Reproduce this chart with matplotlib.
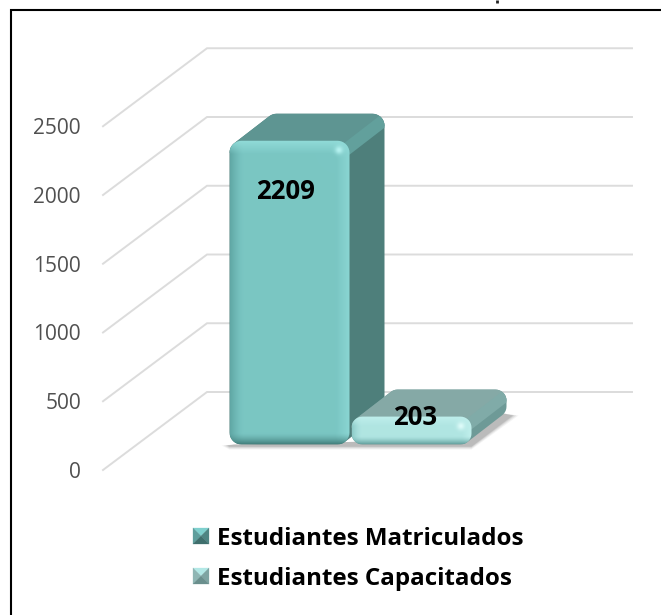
import numpy as np
import matplotlib
matplotlib.use("Agg")
import matplotlib.pyplot as plt
from matplotlib.patches import Polygon

categories = ["Estudiantes Matriculados", "Estudiantes Capacitados"]
values = [2209, 203]
ytick_values = [0, 500, 1000, 1500, 2000, 2500]
ytick_labels = ["0", "500", "1000", "1500", "2000", "2500"]

W, H = 661, 615
PX_X = 122.0     # pixels per bar slot
PX_Y = 0.1375    # pixels per student
X0, Y0 = 289.5, 444.5   # pixel of bar 0 centre / value 0 on the bars front plane
BAR_W = 120
DX, DY = 35, 27  # bar depth in pixels
FONT = "Open Sans"

bar_styles = [
    dict(base="#7AC6C3", top="#5E9592", side="#4E7F7B", band="#62A09C",
         light="#92DCD9", right="#8BD6D3", left="#5FA6A4", dark="#43807D",
         spot="#B5F2F0", bevel=14, radius=12),
    dict(base="#B0E5E2", top="#85A9A6", side="#6E9A97", band="#80ABA8",
         light="#BFEFEC", right="#C2F0ED", left="#8CCBC8", dark="#64A19F",
         spot="#DDFBF9", bevel=10, radius=11),
]


def dx(px):
    return px / PX_X


def dy(px):
    return px / PX_Y


def corner(xc, yc, r, a0, a1):
    t = np.radians(np.linspace(a0, a1, 10))
    return np.column_stack([xc + dx(r) * np.cos(t), yc + dy(r) * np.sin(t)])


def hull(pts):
    pts = sorted(set(map(tuple, pts)))
    def half(seq):
        out = []
        for p in seq:
            while len(out) > 1 and ((out[-1][0] - out[-2][0]) * (p[1] - out[-2][1])
                                    - (out[-1][1] - out[-2][1]) * (p[0] - out[-2][0])) <= 0:
                out.pop()
            out.append(p)
        return out[:-1]
    return np.array(half(pts) + half(pts[::-1]))


def mix(img, col, w):
    rgb = np.array(matplotlib.colors.to_rgb(col))
    return img * (1 - w[..., None]) + rgb * w[..., None]


def bevel_image(w, h, st):
    xx, yy = np.meshgrid(np.arange(w) + 0.5, np.arange(h) + 0.5)
    b = st["bevel"]
    img = np.ones((h, w, 3)) * np.array(matplotlib.colors.to_rgb(st["base"]))
    img = mix(img, st["left"], np.clip(1 - xx / b, 0, 1) ** 1.5)
    img = mix(img, st["right"], np.clip(1 - (w - xx) / b, 0, 1) ** 1.0)
    img = mix(img, st["light"], np.clip(1 - yy / b, 0, 1) ** 1.0)
    img = mix(img, st["dark"], np.clip(1 - (h - yy) / (b * 0.8), 0, 1) ** 1.5)
    spot = np.exp(-(((xx - w + 11) ** 2 + (yy - 10) ** 2) / 16.0))
    img = mix(img, st["spot"], spot)
    return img


fig = plt.figure(figsize=(W / 100, H / 100), dpi=100)
ax = fig.add_axes([0, 0, 1, 1])
ax.axis("off")
xlim = (-X0 / PX_X, (W - X0) / PX_X)
ylim = (-(H - Y0) / PX_Y, Y0 / PX_Y)

# grid walls: back lines and the diagonal floor lines
for v in ytick_values:
    back_y = v + dy(52.5)
    front_y = v - dy(25.5)
    xb = (207 - X0) / PX_X
    xe = (632 - X0) / PX_X
    xf = (103 - X0) / PX_X
    ax.plot([xf, xb, xe], [front_y, back_y, back_y], color="#DCDCDC", lw=1.4, zorder=1,
            solid_joinstyle="miter")

# shadow on the floor
for grow, alpha in [(6, 0.08), (4, 0.12), (2, 0.16), (0.5, 0.20)]:
    left = -dx(BAR_W / 2)
    right = len(values) - 1 + dx(BAR_W / 2)
    shadow = [(left - dx(2 + grow), -dy(1)), (left, -dy(2 + grow / 2)),
              (right, -dy(2 + grow / 2)), (right + dx(DX + 6 + grow), dy(DY + 2)),
              (right + dx(DX - 3), dy(DY + 4)), (right - dx(10), dy(5)), (left + dx(5), 0)]
    ax.add_patch(Polygon(shadow, closed=True, fc="#6F6F6F", ec="none", alpha=alpha, zorder=2))

# bars
for i, (val, st) in enumerate(zip(values, bar_styles)):
    z = 3 + i
    x0 = i - dx(BAR_W / 2)
    x1 = i + dx(BAR_W / 2)
    y0, y1 = 0, val
    r = st["radius"]
    ox, oy = dx(DX), dy(DY)

    def rect_pts(sx, sy):
        return np.vstack([
            corner(x1 - dx(r) + sx, y1 - dy(r) + sy, r, 0, 90),
            corner(x0 + dx(r) + sx, y1 - dy(r) + sy, r, 90, 180),
            corner(x0 + dx(r) + sx, y0 + dy(r) + sy, r, 180, 270),
            corner(x1 - dx(r) + sx, y0 + dy(r) + sy, r, 270, 360),
        ])

    ax.add_patch(Polygon(hull(np.vstack([rect_pts(0, 0), rect_pts(ox, oy)])), closed=True,
                         fc=st["side"], ec="none", zorder=z))
    # top face
    tl = corner(x0 + dx(r), y1 - dy(r), r, 90, 180)
    tr = corner(x1 - dx(r), y1 - dy(r), r, 0, 90)
    top_pts = np.vstack([tl, tr, tl + [ox, oy], tr + [ox, oy]])
    ax.add_patch(Polygon(hull(top_pts), closed=True, fc=st["top"], ec="none", zorder=z))
    # lighter band along the top right edge
    band = corner(x1 - dx(r), y1 - dy(r), r, -10, 55)
    ax.add_patch(Polygon(hull(np.vstack([band, band + [ox, oy]])), closed=True,
                         fc=st["band"], ec="none", zorder=z))
    # front face with the bevel, clipped to a rounded box
    wpx = BAR_W
    hpx = max(int(round(val * PX_Y)), 2)
    im = ax.imshow(bevel_image(wpx, hpx, st), extent=(x0, x1, y0, y1), origin="upper",
                   aspect="auto", interpolation="bilinear", zorder=z + 0.5)
    clip = Polygon(rect_pts(0, 0), closed=True, fc="none", ec="none", zorder=z + 0.5)
    ax.add_patch(clip)
    im.set_clip_path(clip)

# value labels
ax.annotate(str(values[0]), (0, values[0]), xytext=(-4, -51), textcoords="offset pixels",
            ha="center", va="center", fontsize=18.5, fontweight="bold", family=FONT,
            color="black", zorder=10)
ax.annotate(str(values[1]), (1, values[1]), xytext=(4, -1), textcoords="offset pixels",
            ha="center", va="center", fontsize=18.5, fontweight="bold", family=FONT,
            color="black", zorder=10)

# axis tick labels
for v, lab in zip(ytick_values, ytick_labels):
    ax.annotate(lab, ((81 - X0) / PX_X, v - dy(25.5)), ha="right", va="center_baseline",
                fontsize=15, color="#505050", family=FONT, zorder=10)

ax.set_xlim(*xlim)
ax.set_ylim(*ylim)

# page furniture and legend in pixel coordinates
axp = fig.add_axes([0, 0, 1, 1])
axp.axis("off")
axp.patch.set_alpha(0)
axp.set_xlim(0, W)
axp.set_ylim(H, 0)

axp.plot([11, 11, W], [H, 10, 10], color="black", lw=1.5, solid_joinstyle="miter", zorder=5)
# speck left over from the cropped page text above the frame
axp.plot([497, 497], [0, 3], color="#222222", lw=2, solid_capstyle="butt")

legend_y = [536, 576]
marker_cols = [("#7FD0CE", "#5E9E9C", "#4E8583", "#3F6F6D"),
               ("#B3E8E6", "#8FB6B4", "#7EA4A2", "#6A8F8D")]
for name, yc, cols in zip(categories, legend_y, marker_cols):
    x0m, x1m = 193, 209
    y0m, y1m = yc - 8, yc + 8
    cx, cy = (x0m + x1m) / 2, yc
    tris = [[(x0m, y0m), (x1m, y0m), (cx, cy)],
            [(x0m, y0m), (x0m, y1m), (cx, cy)],
            [(x1m, y0m), (x1m, y1m), (cx, cy)],
            [(x0m, y1m), (x1m, y1m), (cx, cy)]]
    for t, c in zip(tris, cols):
        axp.add_patch(Polygon(t, closed=True, fc=c, ec=c, lw=0.2))
    axp.text(217, yc, name, fontsize=17.4, fontweight="bold", family=FONT, color="black",
             va="center_baseline", ha="left")

fig.savefig("out.png", dpi=100)
